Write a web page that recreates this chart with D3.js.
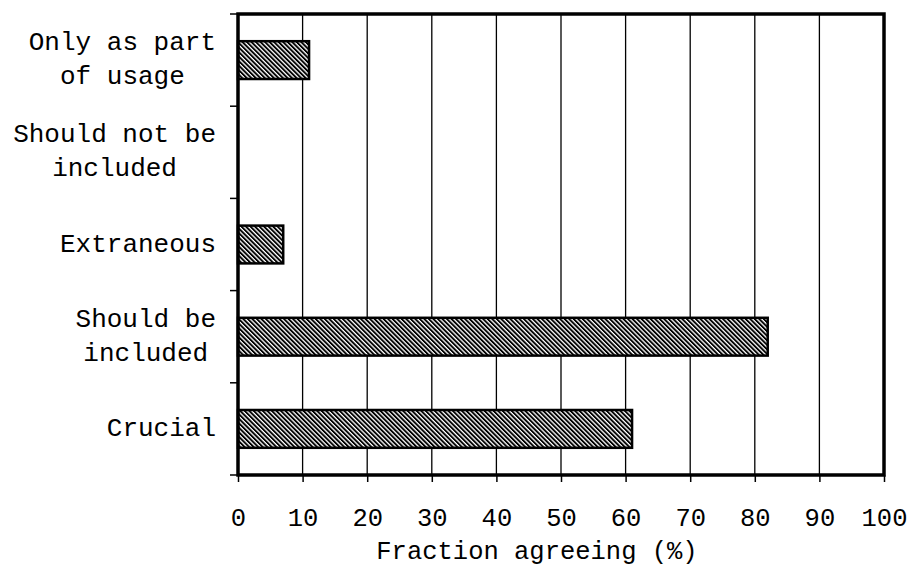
<!DOCTYPE html>
<html>
<head>
<meta charset="utf-8">
<script src="https://cdn.jsdelivr.net/npm/d3@7"></script>
<style>
  html, body { margin: 0; padding: 0; background: #fff; }
  svg { display: block; }
  text { font-family: 'Courier New', 'Liberation Mono', monospace; fill: #000; }
</style>
</head>
<body>
<svg id="chart" width="910" height="569"></svg>
<script>
// ---- data ----
const categories = ["Only as part of usage", "Should not be included", "Extraneous", "Should be included", "Crucial"];
const categoryLines = [["Only as part", "of usage"], ["Should not be", "included"], ["Extraneous"], ["Should be", "included"], ["Crucial"]];
const values = [11, 0, 7, 82, 61];
const xTicks = [0, 10, 20, 30, 40, 50, 60, 70, 80, 90, 100];
const xTitle = "Fraction agreeing (%)";

// ---- layout ----
const W = 910, H = 569;
const plot = { left: 238, right: 884, top: 14, bottom: 475 };
const labelFont = 26;
const tickFont = 25.5;

const svg = d3.select("#chart");

const defs = svg.append("defs");
const pat = defs.append("pattern")
  .attr("id", "hatch")
  .attr("patternUnits", "userSpaceOnUse")
  .attr("width", 3.2).attr("height", 10)
  .attr("patternTransform", "rotate(-45)");
pat.append("rect").attr("x", 0).attr("y", 0).attr("width", 3.2).attr("height", 10).attr("fill", "#fff");
pat.append("rect").attr("x", 0).attr("y", 0).attr("width", 1.9).attr("height", 10).attr("fill", "#000");

const x = d3.scaleLinear().domain([0, 100]).range([plot.left, plot.right]);
const y = d3.scaleBand().domain(categories).range([plot.top, plot.bottom])
  .paddingInner(0.59).paddingOuter(0.295);

// gridlines
svg.append("g").selectAll("line")
  .data(xTicks.filter(t => t > 0 && t < 100))
  .join("line")
  .attr("x1", d => x(d)).attr("x2", d => x(d))
  .attr("y1", plot.top).attr("y2", plot.bottom)
  .attr("stroke", "#000").attr("stroke-width", 1.3);

// bars
svg.append("g").selectAll("rect")
  .data(categories.map((c, i) => ({ c, v: values[i] })).filter(d => d.v > 0))
  .join("rect")
  .attr("x", x(0))
  .attr("y", d => y(d.c))
  .attr("width", d => x(d.v) - x(0))
  .attr("height", y.bandwidth())
  .attr("fill", "url(#hatch)")
  .attr("stroke", "#000").attr("stroke-width", 2.5);

// bottom axis
const xAxis = d3.axisBottom(x).tickValues(xTicks).tickSize(7).tickPadding(26).tickFormat(d3.format("d"));
const gx = svg.append("g").attr("transform", `translate(0,${plot.bottom})`).call(xAxis);
gx.select(".domain").remove();
gx.selectAll(".tick line").attr("stroke", "#000").attr("stroke-width", 1.5);
gx.selectAll(".tick text").attr("font-size", tickFont).attr("font-family", "'Courier New', 'Liberation Mono', monospace").attr("fill", "#000");

// left ticks at band boundaries
const step = y.step();
const boundaries = d3.range(categories.length + 1).map(i => plot.top + i * step);
svg.append("g").selectAll("line")
  .data(boundaries)
  .join("line")
  .attr("x1", plot.left - 8).attr("x2", plot.left)
  .attr("y1", d => d).attr("y2", d => d)
  .attr("stroke", "#000").attr("stroke-width", 1.5);

// frame
svg.append("rect")
  .attr("x", plot.left).attr("y", plot.top)
  .attr("width", plot.right - plot.left).attr("height", plot.bottom - plot.top)
  .attr("fill", "none").attr("stroke", "#000").attr("stroke-width", 3.5);

// category labels (lines centered, block right-aligned)
const lineH = 34;
const labelRight = 216;
const gy = svg.append("g");
categoryLines.forEach((lines, i) => {
  const cy = y(categories[i]) + y.bandwidth() / 2;
  const g = gy.append("g");
  const texts = lines.map((ln, j) => g.append("text")
    .attr("font-size", labelFont)
    .attr("text-anchor", "middle")
    .attr("dominant-baseline", "central")
    .attr("y", cy + (j - (lines.length - 1) / 2) * lineH)
    .text(ln));
  const maxW = d3.max(texts, t => t.node().getComputedTextLength());
  texts.forEach(t => t.attr("x", labelRight - maxW / 2));
});

// x title
svg.append("text")
  .attr("x", 537)
  .attr("y", 559)
  .attr("text-anchor", "middle")
  .attr("font-size", tickFont)
  .text(xTitle);
</script>
</body>
</html>
